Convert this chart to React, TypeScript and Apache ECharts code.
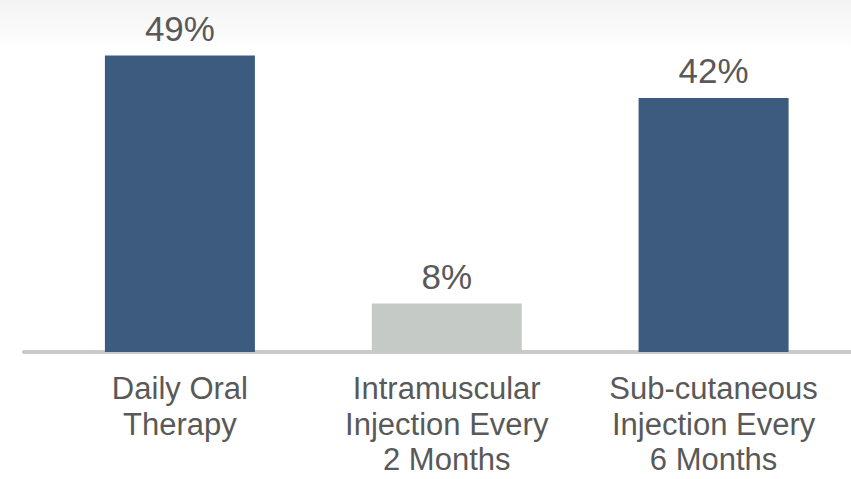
import React, { useEffect, useRef } from "react";
import * as echarts from "echarts";

const categories = [
  "Daily Oral\nTherapy",
  "Intramuscular\nInjection Every\n2 Months",
  "Sub-cutaneous\nInjection Every\n6 Months",
];
const values = [49, 8, 42];
const barColors = ["#3d5a7f", "#c6cac6", "#3d5a7f"];

export default function App() {
  const ref = useRef<HTMLDivElement>(null);
  useEffect(() => {
    if (!ref.current) return;
    const chart = echarts.init(ref.current, null, { renderer: "svg" });
    const font = "'Liberation Sans', Arial, sans-serif";
    chart.setOption({
      animation: false,
      backgroundColor: {
        type: "linear",
        x: 0,
        y: 0,
        x2: 0,
        y2: 1,
        colorStops: [
          { offset: 0, color: "#f3f3f3" },
          { offset: 0.09, color: "#fdfdfd" },
          { offset: 0.1, color: "#ffffff" },
          { offset: 1, color: "#ffffff" },
        ],
      },
      grid: [
        { left: 46.5, right: 4, top: 49.5, bottom: 127, outerBoundsMode: "none", containLabel: false },
        { left: 24, right: 0, top: 49.5, bottom: 127.5, outerBoundsMode: "none", containLabel: false },
      ],
      xAxis: [
        {
          type: "category",
          gridIndex: 0,
          data: categories,
          axisLine: { show: false },
          axisTick: { show: false },
          axisLabel: {
            color: "#595959",
            fontSize: 31,
            lineHeight: 35.5,
            fontFamily: font,
            margin: 19,
            interval: 0,
          },
        },
        {
          type: "value",
          gridIndex: 1,
          min: 0,
          max: 1,
          axisLine: { show: true, lineStyle: { color: "#c8cbc8", width: 4, cap: "round" } },
          axisTick: { show: false },
          axisLabel: { show: false },
          splitLine: { show: false },
        },
      ],
      yAxis: [
        { type: "value", gridIndex: 0, min: 0, max: 50, show: false },
        { type: "value", gridIndex: 1, min: 0, max: 1, show: false },
      ],
      series: [
        {
          type: "bar",
          xAxisIndex: 0,
          yAxisIndex: 0,
          barWidth: 150,
          z: 3,
          data: values.map((v, i) => ({ value: v, itemStyle: { color: barColors[i] } })),
          label: {
            show: true,
            position: "top",
            distance: 10,
            formatter: "{c}%",
            color: "#595959",
            fontSize: 35,
            fontFamily: font,
          },
        },
      ],
    });
    return () => chart.dispose();
  }, []);
  return (
    <div
      ref={ref}
      style={{ position: "fixed", left: 0, top: 0, width: 851, height: 479 }}
    />
  );
}
